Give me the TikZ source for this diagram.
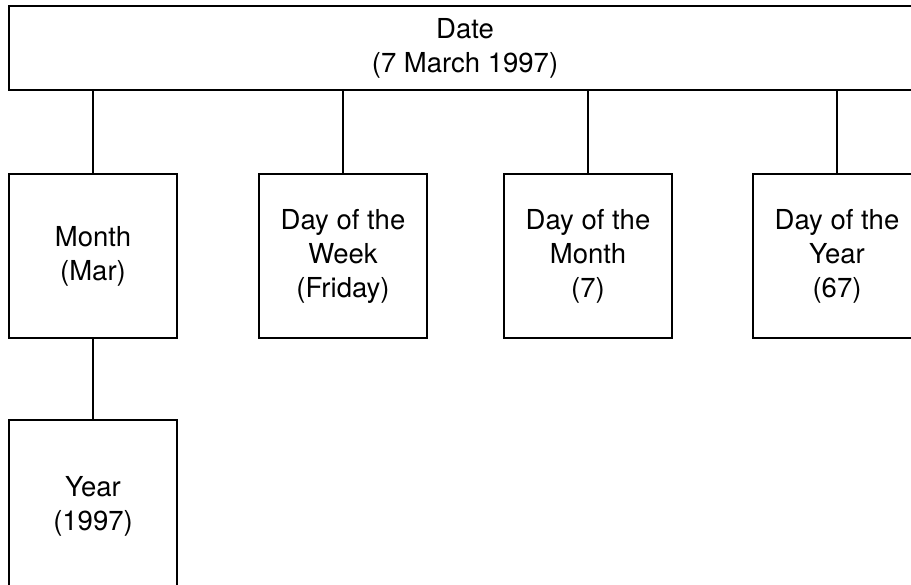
\documentclass[tikz,border=0pt]{standalone}
\usepackage{fontspec}
\setmainfont{TeX Gyre Heros}
\begin{document}
\begin{tikzpicture}[x=1pt,y=-1pt,
  box/.style={draw,line width=2pt,rectangle,align=center,inner sep=0pt,
    minimum width=168pt,minimum height=164pt,font=\fontsize{27.5}{34}\selectfont},
  link/.style={line width=2pt}]
\useasboundingbox (0,0) rectangle (911,585);
\node[box,minimum width=912pt,minimum height=84pt] (date) at (465,48) {Date\\(7 March 1997)};
\node[box] (month) at (93,256) {Month\\(Mar)};
\node[box] (dow) at (343,256) {Day of the\\Week\\(Friday)};
\node[box] (dom) at (588,256) {Day of the\\Month\\(7)};
\node[box] (doy) at (837,256) {Day of the\\Year\\(67)};
\node[box,minimum height=172pt] (year) at (93,506) {Year\\(1997)};
\draw[link] (date.south -| month.north) -- (month.north);
\draw[link] (date.south -| dow.north) -- (dow.north);
\draw[link] (date.south -| dom.north) -- (dom.north);
\draw[link] (date.south -| doy.north) -- (doy.north);
\draw[link] (month.south) -- (year.north);
\end{tikzpicture}
\end{document}
